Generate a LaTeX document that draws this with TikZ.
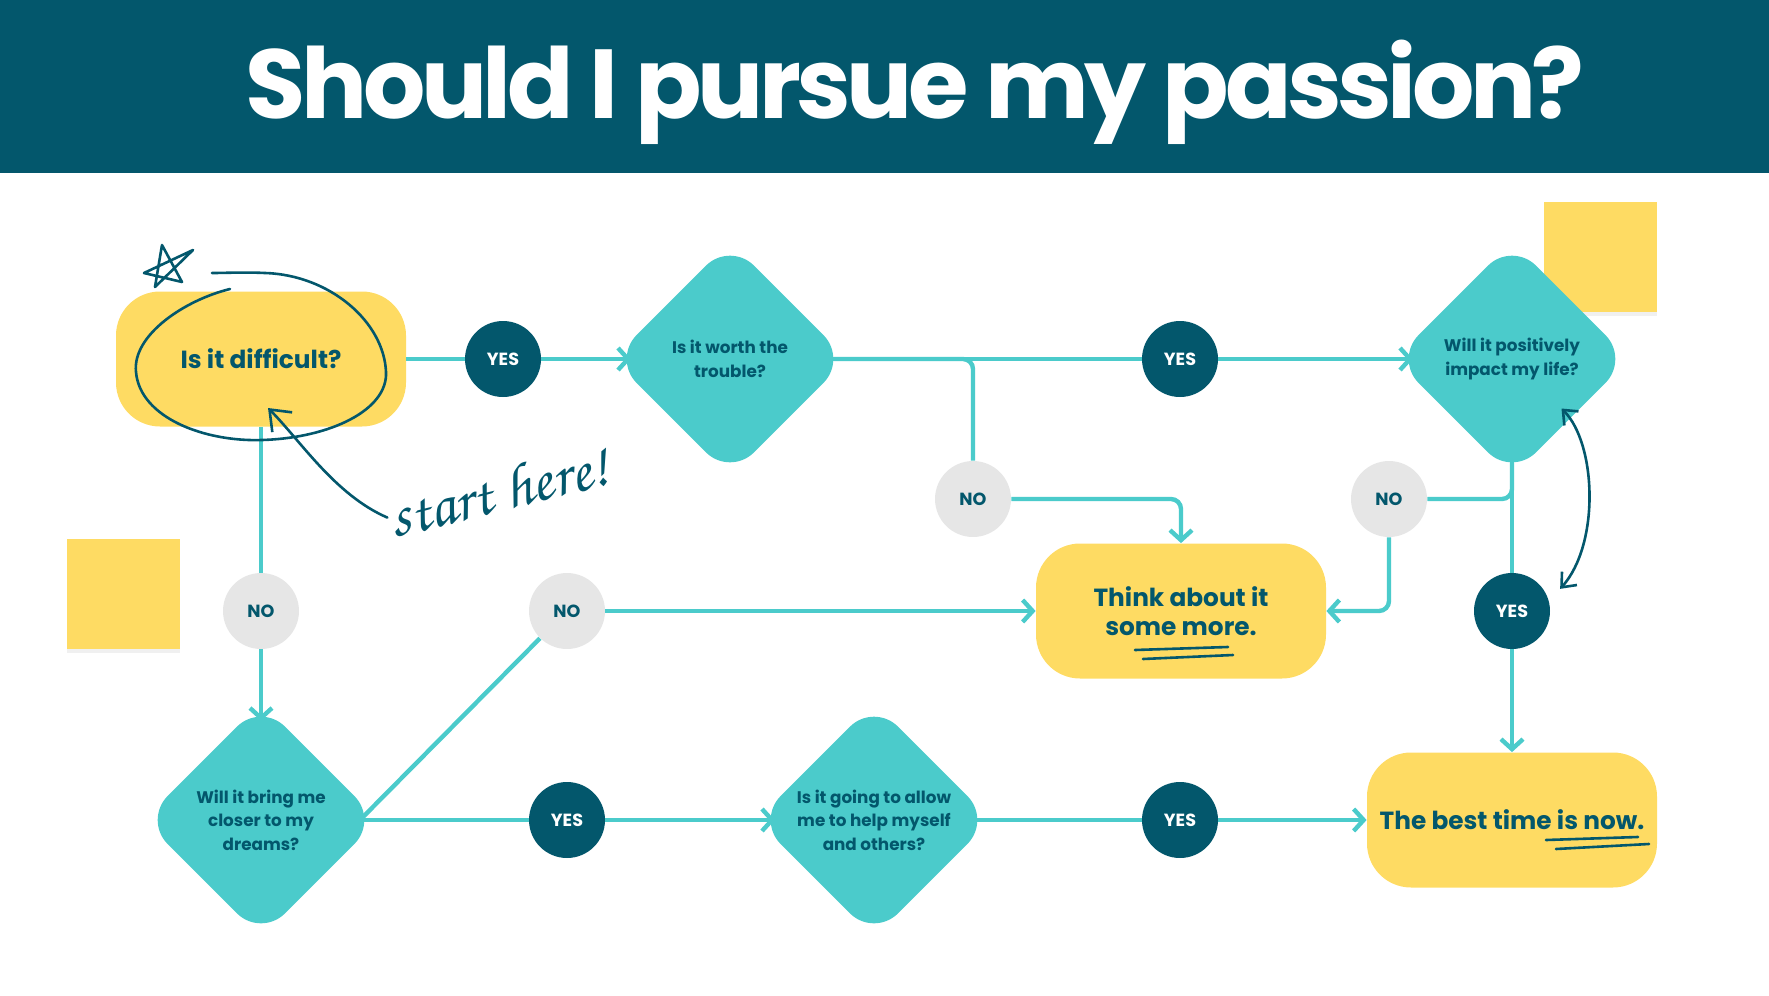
\documentclass[tikz,border=0pt]{standalone}
\usepackage{fontspec}
\setmainfont{Poppins}
\usepackage[T1,TU]{fontenc}
\usetikzlibrary{positioning, calc, arrows.meta, shapes.geometric}

\definecolor{deep}{HTML}{03576C}
\definecolor{aqua}{HTML}{4BCBCB}
\definecolor{sun}{HTML}{FEDB63}
\definecolor{mist}{HTML}{E6E6E6}
\newcommand{\handfont}{\fontencoding{T1}\fontfamily{pzc}\fontseries{mb}\fontshape{it}\fontsize{31}{34}\selectfont}

\begin{document}
\begin{tikzpicture}[x=0.5pt, y=-0.5pt,
	box/.style={rectangle, rounded corners=22pt, fill=sun, minimum width=145pt, minimum height=67.5pt, text=deep, font=\bfseries\fontsize{12.4}{14.8}\selectfont, align=center},
	ask/.style={diamond, aspect=1, rounded corners=17pt, fill=aqua, minimum size=112pt, inner sep=0pt, outer sep=-6.5pt, text=deep, font=\bfseries\fontsize{8.4}{11.8}\selectfont, align=center},
	yes/.style={circle, fill=deep, minimum size=38pt, inner sep=0pt, text=white, font=\bfseries\fontsize{8.8}{10}\selectfont},
	no/.style={yes, fill=mist, text=deep},
	link/.style={draw=aqua, line width=2.2pt, rounded corners=5pt},
	go/.style={link, -{Straight Barb[length=5pt,width=11pt]}},
	hand/.style={draw=deep, line width=1.3pt, line cap=round, line join=round},
	barb/.style={hand, -{Straight Barb[length=9pt,width=14pt]}}]
	\useasboundingbox (0,0) rectangle (1769,996);
	
	% header
	\fill[deep] (0,0) rectangle (1769,173);
	\node[anchor=base, text=white, font=\bfseries\fontsize{49}{58}\selectfont\addfontfeatures{LetterSpace=-4.5}] (title) at (915,118) {Should I pursue my passion?};
	
	% sticky notes
	\fill[black!6] (67,543) rectangle (180,653);
	\fill[sun] (67,539) rectangle (180,649);
	\fill[black!6] (1544,206) rectangle (1657,316);
	\fill[sun] (1544,202) rectangle (1657,312);
	
	\node[box] (hard) at (261,359) {Is it difficult?};
	\node[yes] (y1) at (503,359) {YES};
	\node[ask] (worth) at (730,359) {Is it worth the\\trouble?};
	\node[yes] (y2) at (1180,359) {YES};
	\node[ask] (life) at (1512,359) {Will it positively\\impact my life?};
	\node[no] (n1) at (973,499) {NO};
	\node[no] (n2) at (1389,499) {NO};
	\node[box] (more) at (1181,611) {Think about it\\some more.};
	\node[yes] (y3) at (1512,611) {YES};
	\node[box] (now) at (1512,820) {The best time is now.};
	\node[no] (n3) at (261,611) {NO};
	\node[no] (n4) at (567,611) {NO};
	\node[ask] (dreams) at (261,820) {Will it bring me\\closer to my\\dreams?};
	\node[yes] (y4) at (567,820) {YES};
	\node[ask] (help) at (874,820) {Is it going to allow\\me to help myself\\and others?};
	\node[yes] (y5) at (1180,820) {YES};
	
	\draw[link] (hard) -- (y1);
	\draw[go] (y1) -- (worth);
	\draw[link] (worth) -- (y2);
	\draw[go] (y2) -- (life);
	\draw[link] (worth.east) -| (n1);
	\draw[go] (n1) -| (more);
	\draw[link] (life) -- (y3);
	\draw[link] (life.south) |- (n2);
	\draw[go] (n2) |- (more);
	\draw[go] (y3) -- (now);
	\draw[link] (hard) -- (n3);
	\draw[go] (n3) -- (dreams);
	\draw[link] (dreams.east) -- (n4);
	\draw[go] (n4) -- (more);
	\draw[link] (dreams) -- (y4);
	\draw[go] (y4) -- (help);
	\draw[link] (help) -- (y5);
	\draw[go] (y5) -- (now);
	
	% scribbles
	\draw[hand] (230,289) .. controls (185,300) and (132,335) .. (136,372) .. controls (140,418) and (205,442) .. (262,440) .. controls (330,438) and (388,410) .. (386,372) .. controls (384,322) and (330,275) .. (265,273) .. controls (245,272) and (225,273) .. (212,273);
	\draw[hand] (162,245) -- (182,282) -- (144,273) -- (193,250) -- (155,287) -- (162,245);
	\node[text=deep, font=\handfont, rotate=14, inner sep=1pt] (start) at (498,490) {start here!};
	\coordinate (tip) at (268,408);
	\draw[barb] (start.west) .. controls (335,495) and (300,440) .. (tip);
	\draw[hand, {Straight Barb[length=6pt,width=10pt]}-{Straight Barb[length=6pt,width=10pt]}] (life.south east) .. controls +(35,35) and +(40,-45) .. ($(y3.north east)+(21,5)$);
	\draw[hand] (1135,650) -- (1228,647);
	\draw[hand] (1143,659) -- (1233,655);
	\draw[hand] (1546,840) -- (1638,837);
	\draw[hand] (1556,849) -- (1649,844);
\end{tikzpicture}
\end{document}
